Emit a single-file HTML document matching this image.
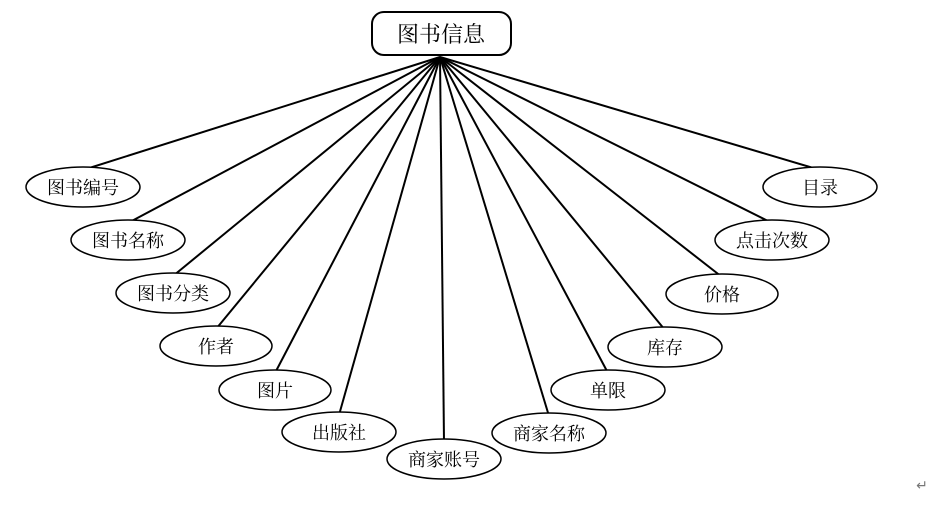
<!DOCTYPE html>
<html><head><meta charset="utf-8"><style>
body{margin:0;background:#fff;}
svg text{font-family:"Liberation Serif","Noto Serif CJK SC",serif;fill:#000;}
</style></head><body>
<svg width="939" height="500" viewBox="0 0 939 500" xmlns="http://www.w3.org/2000/svg">
<g stroke="#000" stroke-width="2">
<line x1="440" y1="57" x2="83" y2="170"/>
<line x1="440" y1="57" x2="128" y2="223"/>
<line x1="440" y1="57" x2="173" y2="276"/>
<line x1="440" y1="57" x2="216" y2="329"/>
<line x1="440" y1="57" x2="275" y2="373"/>
<line x1="440" y1="57" x2="339" y2="415"/>
<line x1="440" y1="57" x2="444" y2="442"/>
<line x1="440" y1="57" x2="549" y2="416"/>
<line x1="440" y1="57" x2="608" y2="373"/>
<line x1="440" y1="57" x2="665" y2="330"/>
<line x1="440" y1="57" x2="722" y2="277"/>
<line x1="440" y1="57" x2="772" y2="223"/>
<line x1="440" y1="57" x2="820" y2="170"/>
</g>
<rect x="372" y="12" width="139" height="43" rx="12" fill="#fff" stroke="#000" stroke-width="2"/>
<text x="441" y="42" font-size="22" text-anchor="middle">图书信息</text>
<g fill="#fff" stroke="#000" stroke-width="1.5">
<ellipse cx="83" cy="187" rx="57" ry="20"/>
<ellipse cx="128" cy="240" rx="57" ry="20"/>
<ellipse cx="173" cy="293" rx="57" ry="20"/>
<ellipse cx="216" cy="346" rx="56" ry="20"/>
<ellipse cx="275" cy="390" rx="56" ry="20"/>
<ellipse cx="339" cy="432" rx="57" ry="20"/>
<ellipse cx="444" cy="459" rx="57" ry="20"/>
<ellipse cx="549" cy="433" rx="57" ry="20"/>
<ellipse cx="608" cy="390" rx="57" ry="20"/>
<ellipse cx="665" cy="347" rx="57" ry="20"/>
<ellipse cx="722" cy="294" rx="56" ry="20"/>
<ellipse cx="772" cy="240" rx="57" ry="20"/>
<ellipse cx="820" cy="187" rx="57" ry="20"/>
</g>
<g font-size="18" text-anchor="middle">
<text x="83" y="194">图书编号</text>
<text x="128" y="247">图书名称</text>
<text x="173" y="300">图书分类</text>
<text x="216" y="353">作者</text>
<text x="275" y="397">图片</text>
<text x="339" y="439">出版社</text>
<text x="444" y="466">商家账号</text>
<text x="549" y="440">商家名称</text>
<text x="608" y="397">单限</text>
<text x="665" y="354">库存</text>
<text x="722" y="301">价格</text>
<text x="772" y="247">点击次数</text>
<text x="820" y="194">目录</text>
</g>
<text x="922" y="490" font-size="14" text-anchor="middle" style="fill:#777">↵</text>
</svg>
</body></html>
